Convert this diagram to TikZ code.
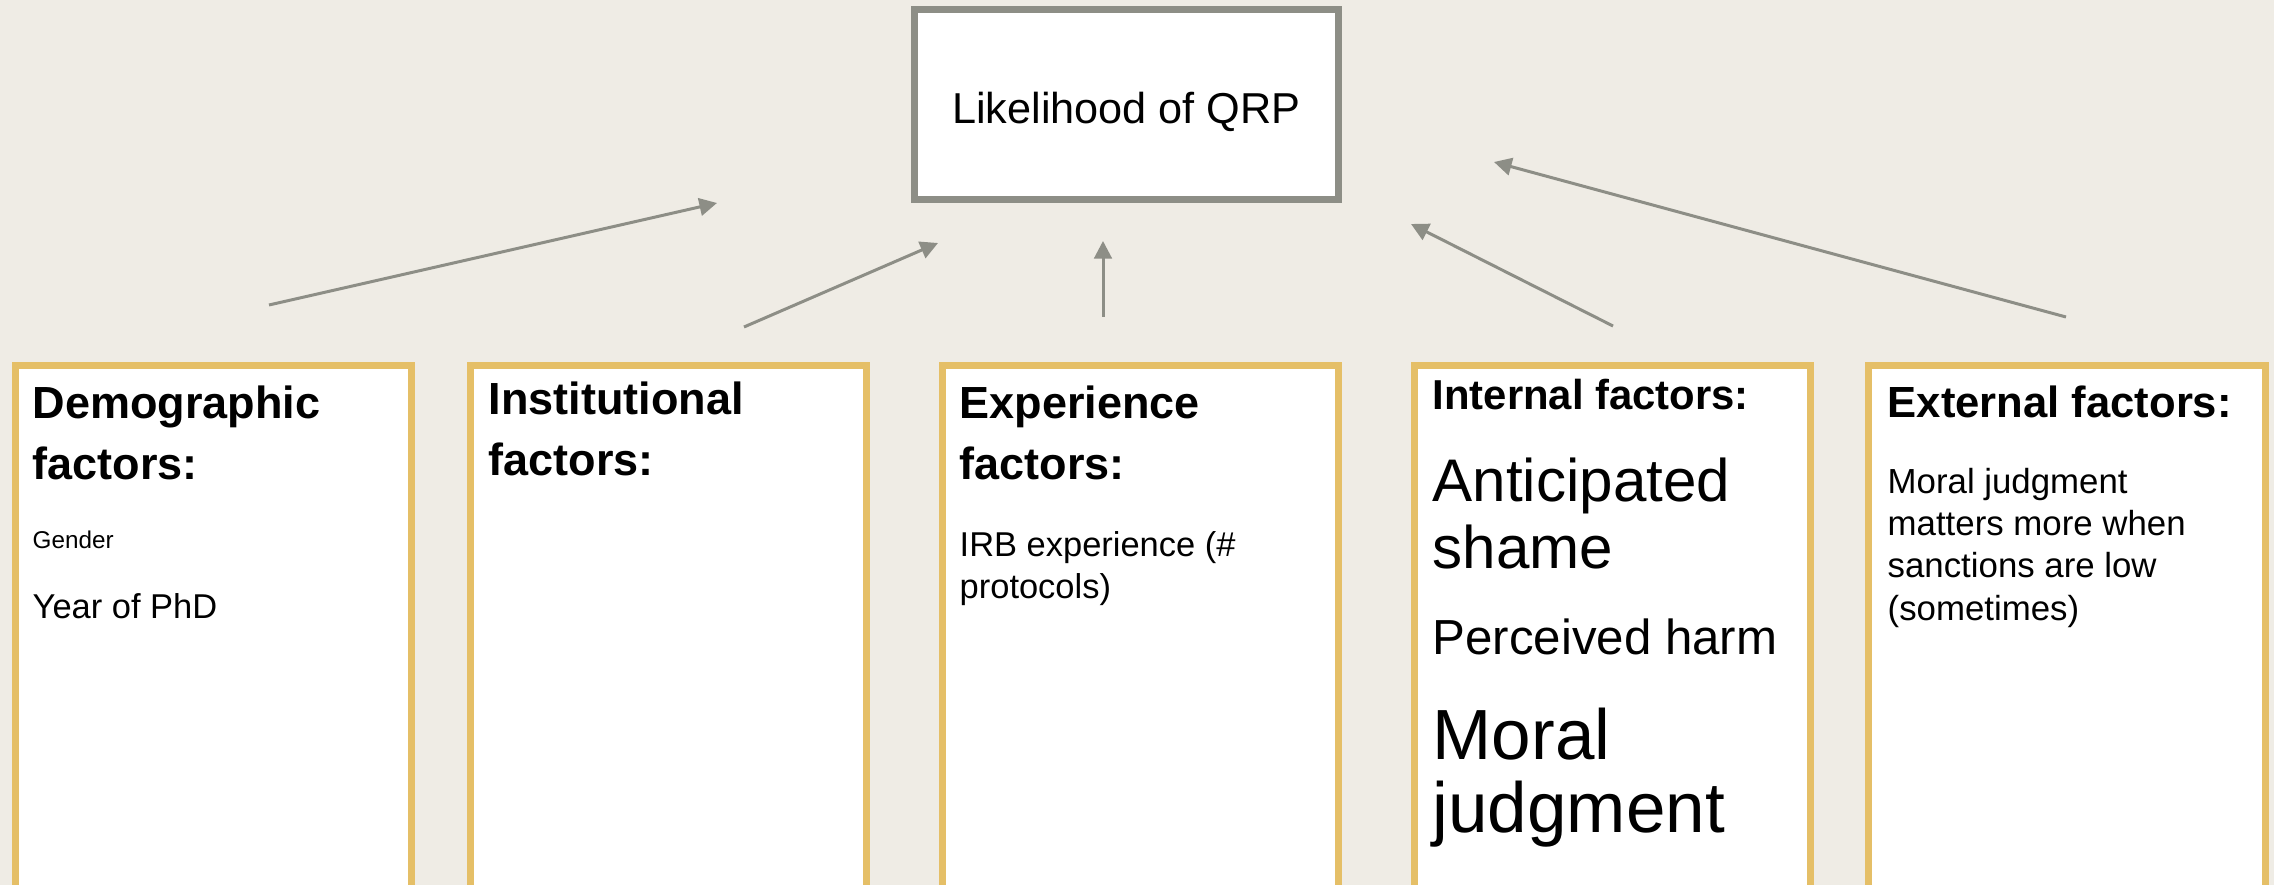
\documentclass[tikz,border=0pt]{standalone}
\usepackage{fontspec}
\setmainfont{Liberation Sans}
\usetikzlibrary{arrows.meta}
\definecolor{slidebg}{HTML}{EFECE5}
\definecolor{boxgold}{HTML}{E5BF67}
\definecolor{linegray}{HTML}{8D8E86}
\newcommand{\fsz}[2]{\fontsize{#1}{#2}\selectfont}
\begin{document}
\begin{tikzpicture}[x=0.01cm,y=-0.01cm,
		factorbox/.style={draw=boxgold,line width=2pt,fill=white,minimum width=3.96cm,minimum height=5.225cm,inner sep=0pt},
		qrpbox/.style={draw=linegray,line width=2pt,fill=white,minimum width=4.24cm,minimum height=1.9cm,text height=0.37cm,text depth=0pt,font=\fsz{12.3}{14}},
		head/.style={anchor=base west,inner sep=0pt,align=left,font=\bfseries\fsz{12.8}{17.4}},
		txt/.style={anchor=base west,inner sep=0pt,align=left,font=\fsz{9.8}{12}},
		link/.style={draw=linegray,line width=0.85pt,-{Triangle[length=5pt,width=5pt]}}]
			\useasboundingbox (0,0) rectangle (2274,885);
			\fill[slidebg] (0,0) rectangle (2274,885);
			
			\node[qrpbox] (qrp) at (1126.5,104.5) {Likelihood of QRP};
			
			% the five factor boxes run off the bottom edge
			\node[factorbox] (demo) at (213.5,626.75) {};
			\node[factorbox] (inst) at (668.5,626.75) {};
			\node[factorbox] (expe) at (1140.5,626.75) {};
			\node[factorbox] (intl) at (1612.5,626.75) {};
			\node[factorbox] (extl) at (2067,626.75) {};
			
			% multi-line nodes: base = last line
			\node[head] (demohead) at (32,480) {Demographic\\factors:};
			\node[txt,font=\fsz{6.9}{8}] (gender) at (32,548) {Gender};
			\node[txt] (phd) at (32,618) {Year of PhD};
			
			\node[head] (insthead) at (488,476) {Institutional\\factors:};
			
			\node[head] (expehead) at (959,480) {Experience\\factors:};
			\node[txt] (irb) at (959,599) {IRB experience (\#\\protocols)};
			
			\node[head,font=\bfseries\fsz{11.9}{14}] (intlhead) at (1432,410) {Internal factors:};
			\node[txt,font=\fsz{17.1}{18.8}] (shame) at (1432,568) {Anticipated\\shame};
			\node[txt,font=\fsz{14}{16}] (harm) at (1432,655) {Perceived harm};
			\node[txt,font=\fsz{20.2}{21}] (moral) at (1432,833) {Moral\\judgment};
			
			\node[head,font=\bfseries\fsz{12.4}{14}] (extlhead) at (1887,418) {External factors:};
			\node[txt,font=\fsz{9.9}{12}] (sanct) at (1887,620) {Moral judgment\\matters more when\\sanctions are low\\(sometimes)};
			
			\coordinate (demo0) at (269,305);
			\coordinate (demo1) at (717,203);
			\coordinate (inst0) at (744,327);
			\coordinate (inst1) at (938,243);
			\coordinate (expe0) at (1103,317);
			\coordinate (expe1) at (1103,241);
			\coordinate (intl0) at (1613,326);
			\coordinate (intl1) at (1411,224);
			\coordinate (extl0) at (2066,317);
			\coordinate (extl1) at (1494,162);
			
			\draw[link] (demo0)--(demo1);
			\draw[link] (inst0)--(inst1);
			\draw[link] (expe0)--(expe1);
			\draw[link] (intl0)--(intl1);
			\draw[link] (extl0)--(extl1);
\end{tikzpicture}
\end{document}
